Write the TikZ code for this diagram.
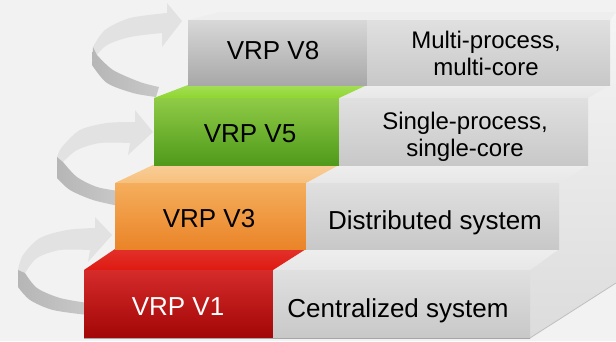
\documentclass[tikz,border=0pt]{standalone}
\usepackage{fontspec}
\setmainfont{Liberation Sans}
\definecolor{bg}{HTML}{F2F2F2}
\definecolor{ribL}{HTML}{E2E2E2}
\definecolor{ribDa}{HTML}{B6B6B6}
\definecolor{ribDb}{HTML}{C8C8C8}
\definecolor{sideT}{HTML}{F5F5F5}
\definecolor{sideB}{HTML}{DCDCDC}
\definecolor{topG}{HTML}{E7E7E7}
\definecolor{topGb}{HTML}{EEEEEE}
\definecolor{faceT}{HTML}{E0E0E0}
\definecolor{faceB}{HTML}{C8C8C8}
\definecolor{redT}{HTML}{D52B2B}
\definecolor{redB}{HTML}{A20606}
\definecolor{redTop}{HTML}{DE1A12}
\definecolor{orT}{HTML}{F5AE5C}
\definecolor{orB}{HTML}{EA8428}
\definecolor{orTop}{HTML}{F7C07C}
\definecolor{grT}{HTML}{90CB46}
\definecolor{grB}{HTML}{4F9A1B}
\definecolor{grTop}{HTML}{8ED62E}
\definecolor{v8T}{HTML}{D8D8D8}
\definecolor{v8B}{HTML}{A8A8A8}
\begin{document}
\begin{tikzpicture}[x=1pt,y=-1pt,
  lbl/.style={font=\fontsize{26}{30}\selectfont, anchor=base, inner sep=0pt},
  lbltwo/.style={font=\fontsize{24}{27}\selectfont, anchor=base, inner sep=0pt},
  ribbonlight/.style={fill=ribL},
  ribbondark/.style={left color=ribDa, right color=ribDb},
  grayface/.style={top color=faceT, bottom color=faceB},
  graytop/.style={top color=topGb, bottom color=topG}]
\useasboundingbox (0,0) rectangle (616,341);
\fill[bg] (0,0) rectangle (616,341);

% ---------- ribbons (behind the steps) ----------
% arrow 3 (top)
\fill[ribbonlight] (167,13) -- (167,3) -- (182,21) -- (162,47) -- (162,33)
  -- plot[smooth] coordinates {(162,33) (130,37) (107,45) (97,55)}
  -- (93,47)
  -- plot[smooth] coordinates {(93,47) (105,30) (130,18) (167,13)} -- cycle;
\shade[ribbondark] (93,47) -- (92,65)
  -- plot[smooth] coordinates {(92,65) (107,83) (133,93) (156,97)}
  -- (159,87)
  -- plot[smooth] coordinates {(159,87) (140,82) (113,70) (97,55)} -- cycle;
% arrow 2 (middle)
\fill[ribbonlight] (135,122) -- (135,110) -- (153,132) -- (128,155) -- (130,143)
  -- plot[smooth] coordinates {(130,143) (100,143) (77,150) (63,162)}
  -- (57,157)
  -- plot[smooth] coordinates {(57,157) (62,147) (80,130) (107,123) (135,122)} -- cycle;
\shade[ribbondark] (57,157) -- (57,178)
  -- plot[smooth] coordinates {(57,178) (70,190) (93,200) (119,206)}
  -- (119,191)
  -- plot[smooth] coordinates {(119,191) (97,187) (77,177) (63,162)} -- cycle;
% arrow 1 (bottom)
\fill[ribbonlight] (95,228) -- (95,217) -- (112,235) -- (88,262) -- (90,250)
  -- plot[smooth] coordinates {(90,250) (60,250) (37,258) (25,273)}
  -- (18,270)
  -- plot[smooth] coordinates {(18,270) (23,255) (40,238) (67,230) (95,228)} -- cycle;
\shade[ribbondark] (18,270) -- (18,287)
  -- plot[smooth] coordinates {(18,287) (30,300) (53,310) (88,315)}
  -- (88,303)
  -- plot[smooth] coordinates {(88,303) (60,298) (37,288) (25,273)} -- cycle;

% ---------- right side face ----------
\shade[top color=sideT, bottom color=sideB]
  (530,338) -- (530,270) -- (559,249) -- (559,183) -- (588,165) -- (588,98)
  -- (610,85) -- (610,20) -- (616,12) -- (616,283) -- cycle;
\draw[black!25, line width=0.8pt] (530,338) -- (616,283);

% ---------- top faces ----------
\fill[topGb] (188,20) -- (610,20) -- (616,12) -- (220,12) -- cycle;
\shade[graytop] (339,98) -- (588,98) -- (610,85) -- (367,85) -- cycle;
\shade[top color=grTop!80!white, bottom color=grTop] (154,98) -- (339,98) -- (367,85) -- (188,85) -- cycle;
\shade[graytop] (306,183) -- (559,183) -- (588,165) -- (339,165) -- cycle;
\shade[top color=orTop!80!white, bottom color=orTop] (115,183) -- (306,183) -- (339,165) -- (153,165) -- cycle;
\shade[graytop] (273,270) -- (530,270) -- (559,249) -- (306,249) -- cycle;
\shade[top color=redTop!90!white, bottom color=redTop] (84,270) -- (273,270) -- (306,249) -- (115,249) -- cycle;

% ---------- front faces ----------
\shade[top color=v8T, bottom color=v8B] (188,20) rectangle (367,85);
\shade[grayface] (367,20) rectangle (610,85);
\shade[top color=grT, bottom color=grB] (154,98) rectangle (339,165);
\shade[grayface] (339,98) rectangle (588,165);
\shade[top color=orT, bottom color=orB] (115,183) rectangle (306,249);
\shade[grayface] (306,183) rectangle (559,249);
\shade[top color=redT, bottom color=redB] (84,270) rectangle (273,338);
\shade[grayface] (273,270) rectangle (530,338);
\draw[black!35, line width=0.8pt] (84,338) -- (530,338);

% ---------- labels ----------
\node[lbl] (v8) at (273,59) {VRP V8};
\node[lbltwo] (mp1) at (486,48) {Multi-process,};
\node[lbltwo] (mp2) at (486,75) {multi-core};
\node[lbl] (v5) at (250,142) {VRP V5};
\node[lbltwo] (sp1) at (465,129) {Single-process,};
\node[lbltwo] (sp2) at (465,156) {single-core};
\node[lbl] (v3) at (209,227) {VRP V3};
\node[lbl] (ds) at (435,229.5) {Distributed system};
\node[lbl, text=white] (v1) at (178,315) {VRP V1};
\node[lbl] (cs) at (398,317) {Centralized system};
\end{tikzpicture}
\end{document}
